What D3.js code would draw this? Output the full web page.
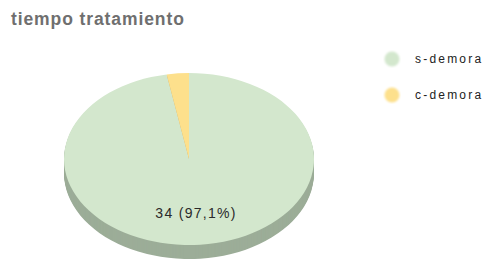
<!DOCTYPE html>
<html>
<head>
<meta charset="utf-8">
<script src="https://cdn.jsdelivr.net/npm/d3@7"></script>
<style>
  body { margin: 0; background: #fff; }
  text { font-family: "Liberation Sans", Arial, sans-serif; }
</style>
</head>
<body>
<div id="chart"></div>
<script>
// Datos del gráfico
const categorias = ['s-demora', 'c-demora'];
const valores = [34, 1];
const colores = ['#d3e7cd', '#fde08c'];
const coloresLado = ['#9cad98', '#c9ad68'];
const titulo = 'tiempo tratamiento';

const width = 493, height = 260;

const svg = d3.select('#chart')
  .append('svg')
  .attr('width', width)
  .attr('height', height);

// filtro para suavizar los círculos de la leyenda
const defs = svg.append('defs');
defs.append('filter').attr('id', 'blur')
  .append('feGaussianBlur').attr('stdDeviation', 1.1);

// Título
svg.append('text')
  .attr('x', 11)
  .attr('y', 25)
  .attr('font-size', 17.5)
  .attr('font-weight', 'bold')
  .attr('letter-spacing', 0.9)
  .attr('fill', '#6f6f6f')
  .text(titulo);

// Pastel en perspectiva
const cx = 189, cy = 159, rx = 125, ry = 86, depth = 14;

// verde desde 0 en sentido horario, el amarillo queda justo antes de 0
const arcos = d3.pie().sort(null)(valores);

const arc = d3.arc().innerRadius(0).outerRadius(rx);

const pastel = svg.append('g')
  .attr('transform', `translate(${cx},${cy})`);

// Lado (capas desplazadas hacia abajo)
for (let k = depth; k >= 1; k--) {
  pastel.append('g')
    .attr('transform', `translate(0,${k}) scale(1,${ry / rx})`)
    .selectAll('path')
    .data(arcos)
    .join('path')
    .attr('d', arc)
    .attr('fill', (d, i) => coloresLado[i]);
}

// Cara superior
pastel.append('g')
  .attr('transform', `scale(1,${ry / rx})`)
  .selectAll('path')
  .data(arcos)
  .join('path')
  .attr('d', arc)
  .attr('fill', (d, i) => colores[i]);

// Etiqueta del sector grande
const total = d3.sum(valores);
const arcEtiqueta = d3.arc().innerRadius(rx * 0.63).outerRadius(rx * 0.63);
pastel.selectAll('.etiqueta')
  .data(arcos.filter(d => d.value / total > 0.1))
  .join('text')
  .attr('class', 'etiqueta')
  .attr('x', d => arcEtiqueta.centroid(d)[0])
  .attr('y', d => arcEtiqueta.centroid(d)[1] * ry / rx)
  .attr('dy', '0.35em')
  .attr('text-anchor', 'middle')
  .attr('font-size', 14)
  .attr('letter-spacing', 1.3)
  .attr('fill', '#2a2a2a')
  .text(d => `${d.value} (${(d.value / total * 100).toFixed(1).replace('.', ',')}%)`);

// Leyenda
const leyenda = svg.append('g')
  .attr('transform', 'translate(392,59)');

const item = leyenda.selectAll('g')
  .data(categorias)
  .join('g')
  .attr('transform', (d, i) => `translate(0,${i * 36})`);

item.append('circle')
  .attr('r', 7.5)
  .attr('fill', (d, i) => colores[i])
  .attr('filter', 'url(#blur)');

item.append('text')
  .attr('x', 23)
  .attr('dy', '0.35em')
  .attr('font-size', 12)
  .attr('letter-spacing', 2.2)
  .attr('fill', '#222')
  .text(d => d);
</script>
</body>
</html>
